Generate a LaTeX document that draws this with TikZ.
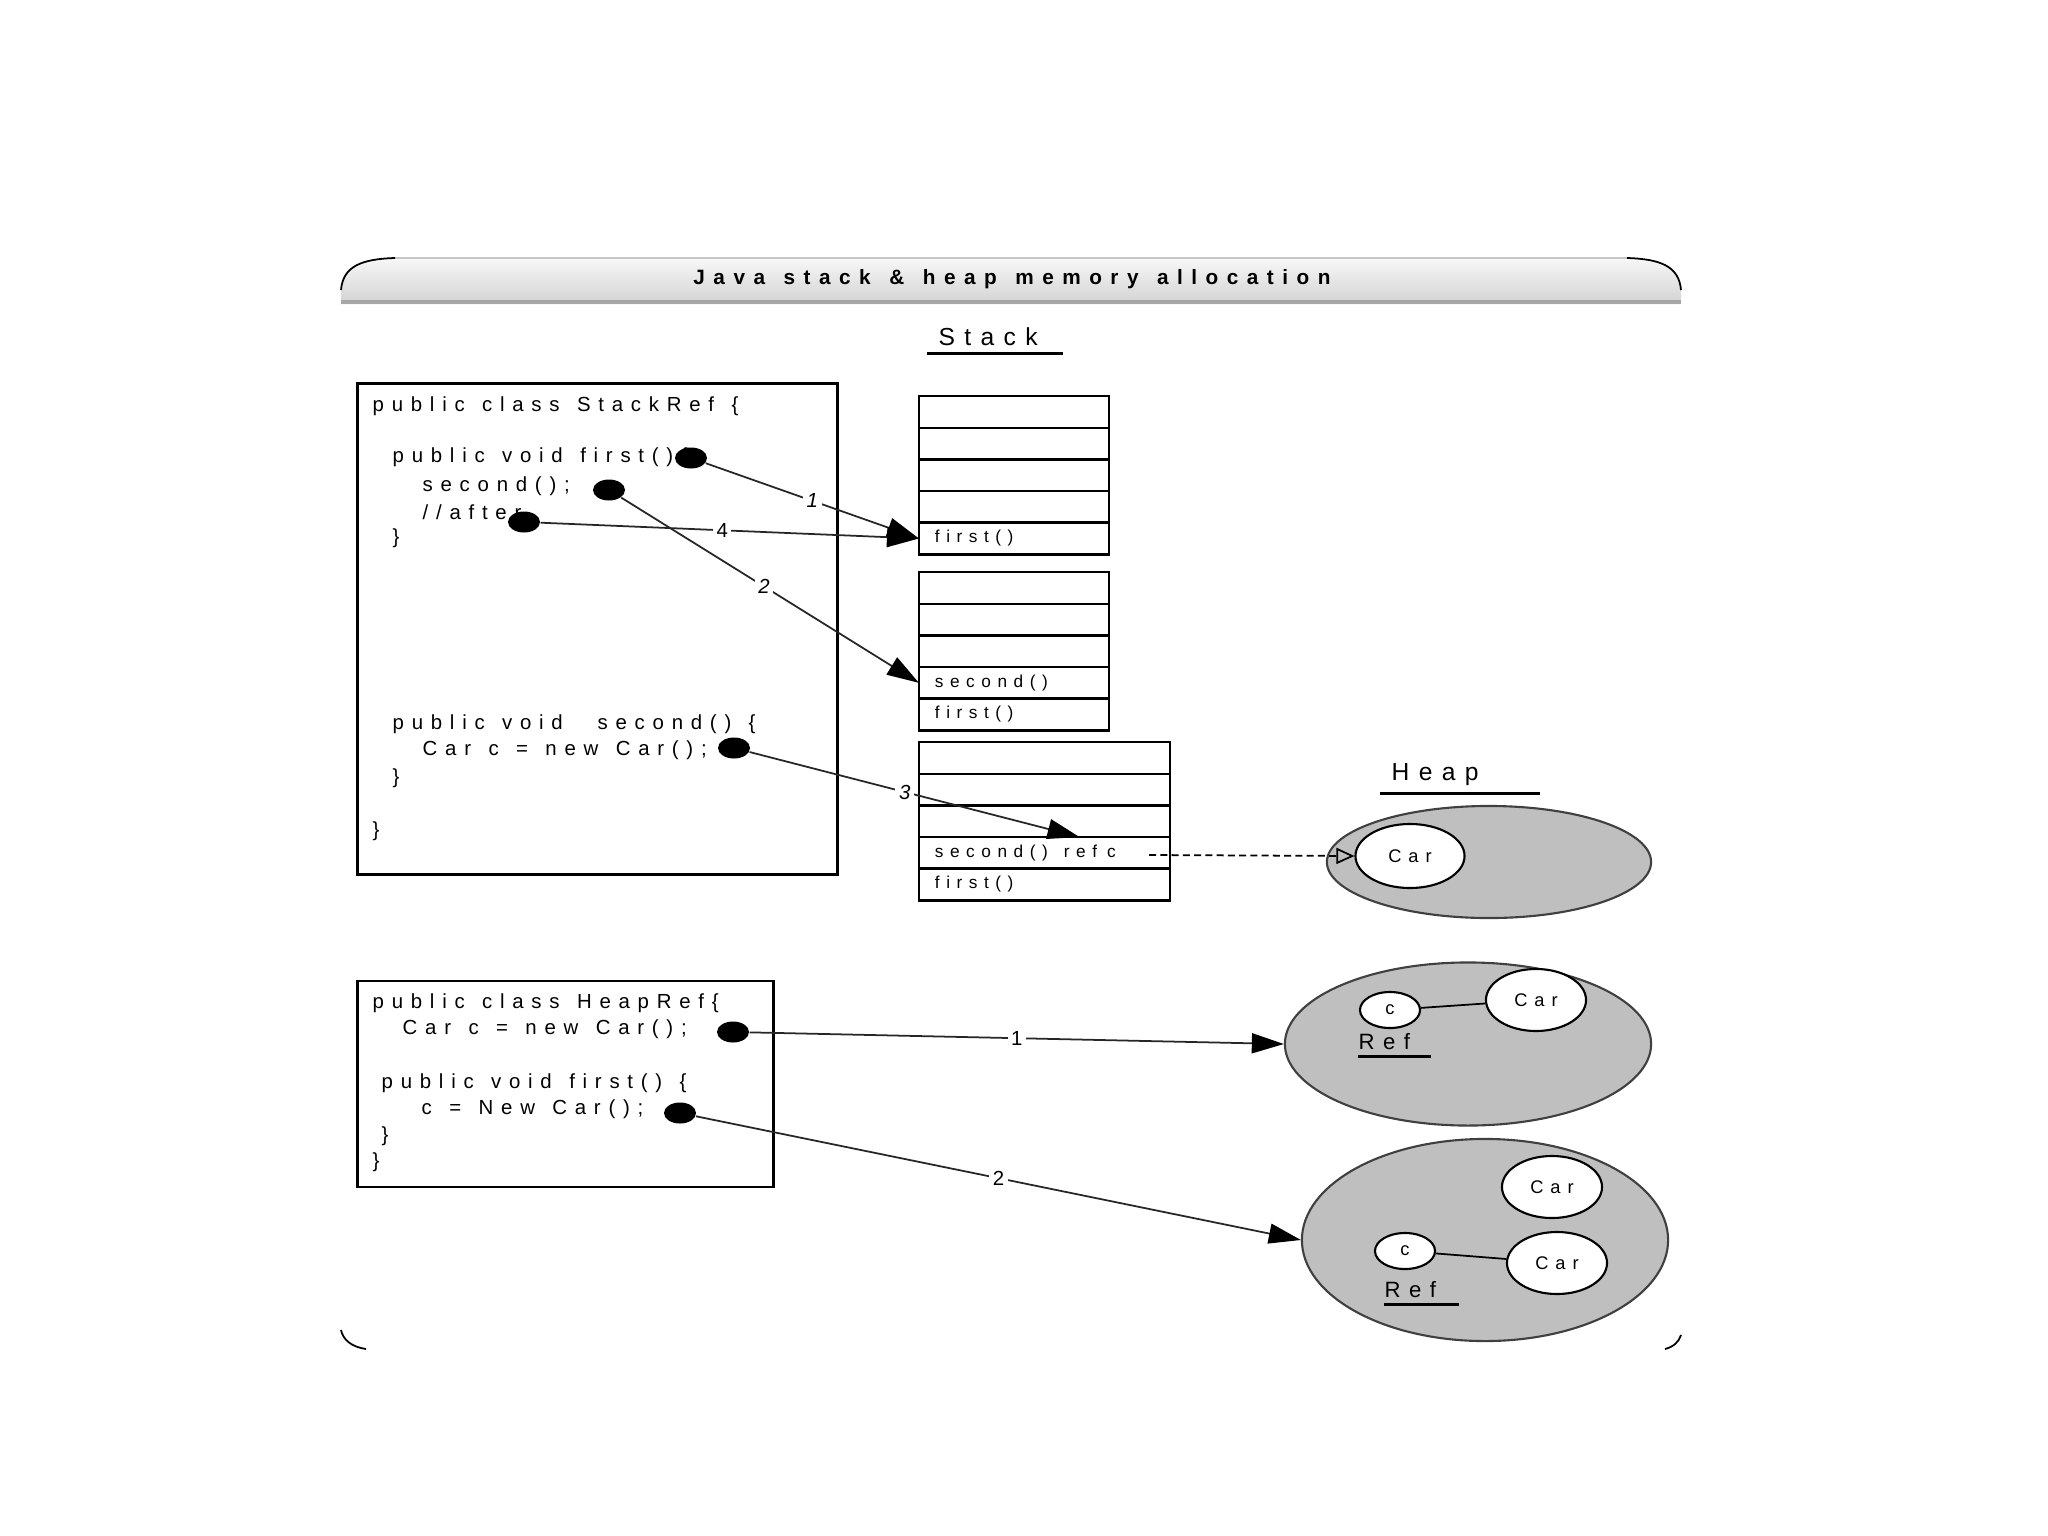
\documentclass[tikz,border=0pt]{standalone}
\usepackage{fontspec}
\setmainfont{Liberation Sans}
\newfontfamily\memfont[LetterSpace=38, WordSpace=1.3]{Liberation Sans}
\newfontfamily\titlefont[LetterSpace=41, WordSpace=1.3]{Liberation Sans}
\usetikzlibrary{positioning,arrows.meta,shapes.geometric}

\begin{document}
\begin{tikzpicture}[
  x=0.01cm, y=-0.01cm,
  font={\memfont\fontsize{5.8pt}{6.7pt}\selectfont},
  line/.style={-{Triangle[length=0.32cm, width=0.2cm, color=black]}, line width=0.5pt, draw=black!85},
  codebox/.style={rectangle, draw=black, line width=0.8pt, fill=white, inner sep=0pt},
  code/.style={anchor=west, inner sep=0pt},
  dot/.style={ellipse, fill=black, minimum width=0.32cm, minimum height=0.21cm, inner sep=0pt},
  cell/.style={rectangle, draw=black, line width=0.7pt, fill=white, outer sep=0pt, minimum height=0.316cm, inner xsep=0.16cm, inner ysep=0pt, text width=1.58cm, align=left, font={\memfont\fontsize{4.9pt}{6pt}\selectfont}},
  widecell/.style={cell, text width=2.19cm},
  heap/.style={ellipse, draw=black!75, fill=gray!50, line width=0.6pt, inner sep=0pt},
  obj/.style={ellipse, draw=black, fill=white, line width=0.6pt, inner sep=0pt, font={\memfont\fontsize{5.2pt}{6pt}\selectfont}},
  num/.style={fill=white, inner sep=1pt},
  heading/.style={anchor=west, inner sep=0pt, font={\memfont\fontsize{7pt}{8pt}\selectfont}},
  reflbl/.style={anchor=west, inner sep=0pt, font={\memfont\fontsize{6.3pt}{7pt}\selectfont}},
  uline/.style={line width=0.8pt}
]
\useasboundingbox (0,0) rectangle (2048,1536);

% Title bar
\shade[top color=gray!6, bottom color=gray!35] (341,304) -- (341,290) .. controls (343,266) and (362,259) .. (395,258) -- (1627,258) .. controls (1660,259) and (1679,266) .. (1681,290) -- (1681,304) -- cycle;
\draw[gray!45, line width=0.4pt] (395,258) -- (1627,258);
\draw[line width=0.5pt] (341,290) .. controls (343,266) and (362,259) .. (395,258);
\draw[line width=0.5pt] (1627,258) .. controls (1660,259) and (1679,266) .. (1681,290);
\draw[gray!70, line width=1pt] (341,302) -- (1681,302);
\node[font={\titlefont\bfseries\fontsize{5.9pt}{7pt}\selectfont}] (title) at (1012,279) {Java stack \& heap memory allocation};

% Bottom corners of the frame
\draw[line width=0.5pt] (341,1330) .. controls (343,1340) and (352,1347) .. (366,1349);
\draw[line width=0.5pt] (1681,1335) .. controls (1679,1342) and (1673,1347) .. (1665,1349);

% StackRef code
\node[codebox, minimum width=4.79cm, minimum height=4.9cm] (stackref) at (597.5,629) {};
\node[code] (s1) at (372,406) {public class StackRef \{};
\node[code] (s2) at (392,457) {public void first()\{};
\node[code] (s3) at (422,486) {second();};
\node[code] (s4) at (422,512) {//after};
\node[code] (s5) at (392,538) {\}};
\node[code] (s6) at (392,724) {public void \ second() \{};
\node[code] (s7) at (422,750) {Car c = new Car();};
\node[code] (s8) at (392,778) {\}};
\node[code] (s9) at (372,831) {\}};

\node[dot] (dfirst) at (691,458) {};
\node[dot] (dsecond) at (609,490) {};
\node[dot] (dafter) at (524,522) {};
\node[dot] (dcar) at (734,748) {};

% Stack frames
\node[heading] (stacklbl) at (938,337) {Stack};
\draw[uline] ([yshift=-2pt,xshift=-3pt]stacklbl.south west) -- ++(136,0);

\node[cell] (a1) at (1014,412) {};
\foreach \i [count=\j from 2] in {1,...,3}
  \node[cell, below=0pt of a\i] (a\j) {};
\node[cell, below=0pt of a4] (a5) {first()};

\node[cell] (b1) at (1014,588) {};
\foreach \i [count=\j from 2] in {1,2}
  \node[cell, below=0pt of b\i] (b\j) {};
\node[cell, below=0pt of b3] (b4) {second()};
\node[cell, below=0pt of b4] (b5) {first()};

\node[widecell] (c1) at (1044.5,758) {};
\foreach \i [count=\j from 2] in {1,2}
  \node[widecell, below=0pt of c\i] (c\j) {};
\node[widecell, below=0pt of c3] (c4) {second()\hspace{0.6em} ref\hspace{0.25em} c};
\node[widecell, below=0pt of c4] (c5) {first()};
\coordinate (refc) at (1149,855);

% Heap
\node[heading] (heaplbl) at (1391,775) {Heap};
\draw[uline] ([yshift=-2pt,xshift=-3pt]heaplbl.south west) -- ++(160,0);
\node[heap, minimum width=3.24cm, minimum height=1.12cm] (heap1) at (1489,862) {};
\node[obj, minimum width=1.09cm, minimum height=0.64cm] (car1) at (1410,856) {Car};

% HeapRef code
\node[codebox, minimum width=4.15cm, minimum height=2.06cm] (heapref) at (565.5,1084) {};
\node[code] (h1) at (372,1003) {public class HeapRef\{};
\node[code] (h2) at (402,1029) {Car c = new Car();};
\node[code] (h3) at (381,1083) {public void first() \{};
\node[code] (h4) at (421,1109) {c = New Car();};
\node[code] (h5) at (381,1136) {\}};
\node[code] (h6) at (372,1162) {\}};

\node[dot] (hdcar) at (733,1032) {};
\node[dot] (hdnew) at (680,1113) {};

\node[heap, minimum width=3.66cm, minimum height=1.63cm] (heap2) at (1468,1044) {};
\node[obj, minimum width=0.6cm, minimum height=0.36cm] (cref2) at (1390,1010) {c};
\node[obj, minimum width=1.0cm, minimum height=0.62cm] (car2) at (1536,1000) {Car};
\node[reflbl] (ref2) at (1358,1042) {Ref};
\draw[uline] ([yshift=-1.5pt]ref2.south west) -- ++(73,0);

\node[heap, minimum width=3.66cm, minimum height=2.02cm] (heap3) at (1485,1240) {};
\node[obj, minimum width=1.0cm, minimum height=0.62cm] (car3a) at (1552,1187) {Car};
\node[obj, minimum width=0.6cm, minimum height=0.36cm] (cref3) at (1405,1251) {c};
\node[obj, minimum width=1.0cm, minimum height=0.62cm] (car3b) at (1557,1263) {Car};
\node[reflbl] (ref3) at (1384,1290) {Ref};
\draw[uline] ([yshift=-1.5pt]ref3.south west) -- ++(75,0);

% Arrows
\draw[line] (dfirst) -- node[num, pos=0.5] {\itshape 1} (a5.west);
\draw[line] (dafter) -- node[num, pos=0.48] {4} (a5.west);
\draw[line] (dsecond) -- node[num, pos=0.48] {\itshape 2} (b4.west);
\draw[line] (dcar) -- node[num, pos=0.47] {\itshape 3} ([xshift=0.35cm]c4.north);
\draw[dashed, dash pattern=on 2pt off 1.2pt, line width=0.5pt, -{Triangle[open, length=0.18cm, width=0.16cm]}] (refc) -- (car1.west);

\draw[line] (hdcar) -- node[num, pos=0.5] {1} (heap2.west);
\draw[line] (hdnew) -- node[num, pos=0.5] {2} (heap3.west);
\draw[line width=0.5pt] (cref2) -- (car2);
\draw[line width=0.5pt] (cref3) -- (car3b);
\end{tikzpicture}
\end{document}
